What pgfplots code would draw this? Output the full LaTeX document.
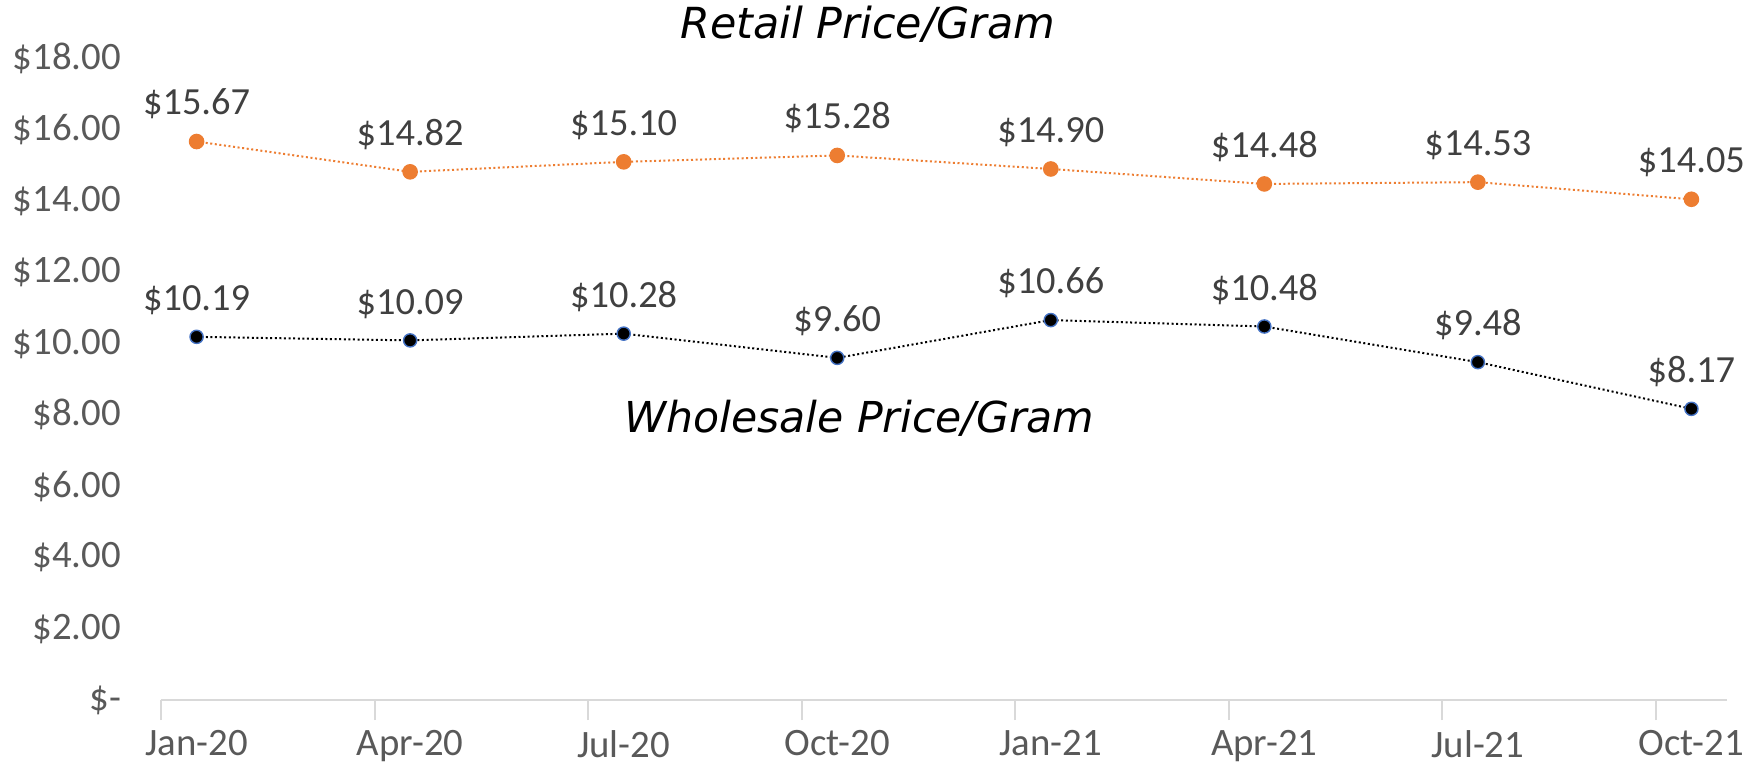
\documentclass[border=0pt]{standalone}
\usepackage{pgfplots}
\pgfplotsset{compat=1.18}
\usepackage{fontspec}
\setmainfont{Carlito}
\newfontfamily\titlefont{DejaVu Sans}
\definecolor{ret}{HTML}{ED7D31}
\definecolor{wbl}{HTML}{4472C4}
\definecolor{tickc}{HTML}{595959}
\definecolor{labc}{HTML}{404040}
\definecolor{axc}{HTML}{D9D9D9}
\begin{document}
\begin{tikzpicture}
\useasboundingbox (-80.5pt,-32.5pt) rectangle (801.5pt,350pt);
\begin{axis}[
  at={(0,0)}, anchor=south west,
  scale only axis, width=783pt, height=320.75pt,
  xmin=0, xmax=22, ymin=0, ymax=18,
  clip=false,
  axis x line*=bottom, axis y line*=left,
  y axis line style={draw=none},
  x axis line style={draw=axc, line width=1pt},
  xtick={0.5,3.5,...,21.5},
  xticklabels={Jan-20,Apr-20,Jul-20,Oct-20,Jan-21,Apr-21,Jul-21,Oct-21},
  ytick={0,2,...,18},
  yticklabels={\$-\hspace{8pt},\$2.00,\$4.00,\$6.00,\$8.00,\$10.00,\$12.00,\$14.00,\$16.00,\$18.00},
  major tick length=0pt,
  extra x ticks={0,3,...,21},
  extra x tick labels={},
  extra x tick style={major tick length=10pt, tick align=outside, tick style={draw=axc, line width=1pt}},
  ticklabel style={font=\fontsize{19.4}{23}\selectfont, text=tickc},
  yticklabel style={anchor=east, xshift=-16.5pt},
  xticklabel style={yshift=-11.8pt},
  nodes near coords={\$\pgfmathprintnumber[fixed,fixed zerofill,precision=2,assume math mode=true]{\pgfplotspointmeta}},
  every node near coord/.append style={font=\fontsize{19.2}{23}\selectfont, text=labc, yshift=7.3pt},
]
\addplot[color=ret, line width=1pt, dash pattern=on 1pt off 1.3pt,
  mark=*, mark size=3.4pt, mark options={solid, fill=ret, draw=ret}]
  coordinates {(0.5,15.67) (3.5,14.82) (6.5,15.10) (9.5,15.28) (12.5,14.90) (15.5,14.48) (18.5,14.53) (21.5,14.05)};
\addplot[color=black, line width=1pt, dash pattern=on 1pt off 1.3pt,
  mark=*, mark size=3.3pt, mark options={solid, fill=black, draw=wbl, line width=0.7pt}]
  coordinates {(0.5,10.19) (3.5,10.09) (6.5,10.28) (9.5,9.60) (12.5,10.66) (15.5,10.48) (18.5,9.48) (21.5,8.17)};
\node[font=\titlefont\itshape\fontsize{21.4}{25}\selectfont, text=black] at (axis cs:9.93,18.95) {Retail Price/Gram};
\node[font=\titlefont\itshape\fontsize{21.3}{25}\selectfont, text=black] at (axis cs:9.81,7.9) {Wholesale Price/Gram};
\end{axis}
\end{tikzpicture}
\end{document}
